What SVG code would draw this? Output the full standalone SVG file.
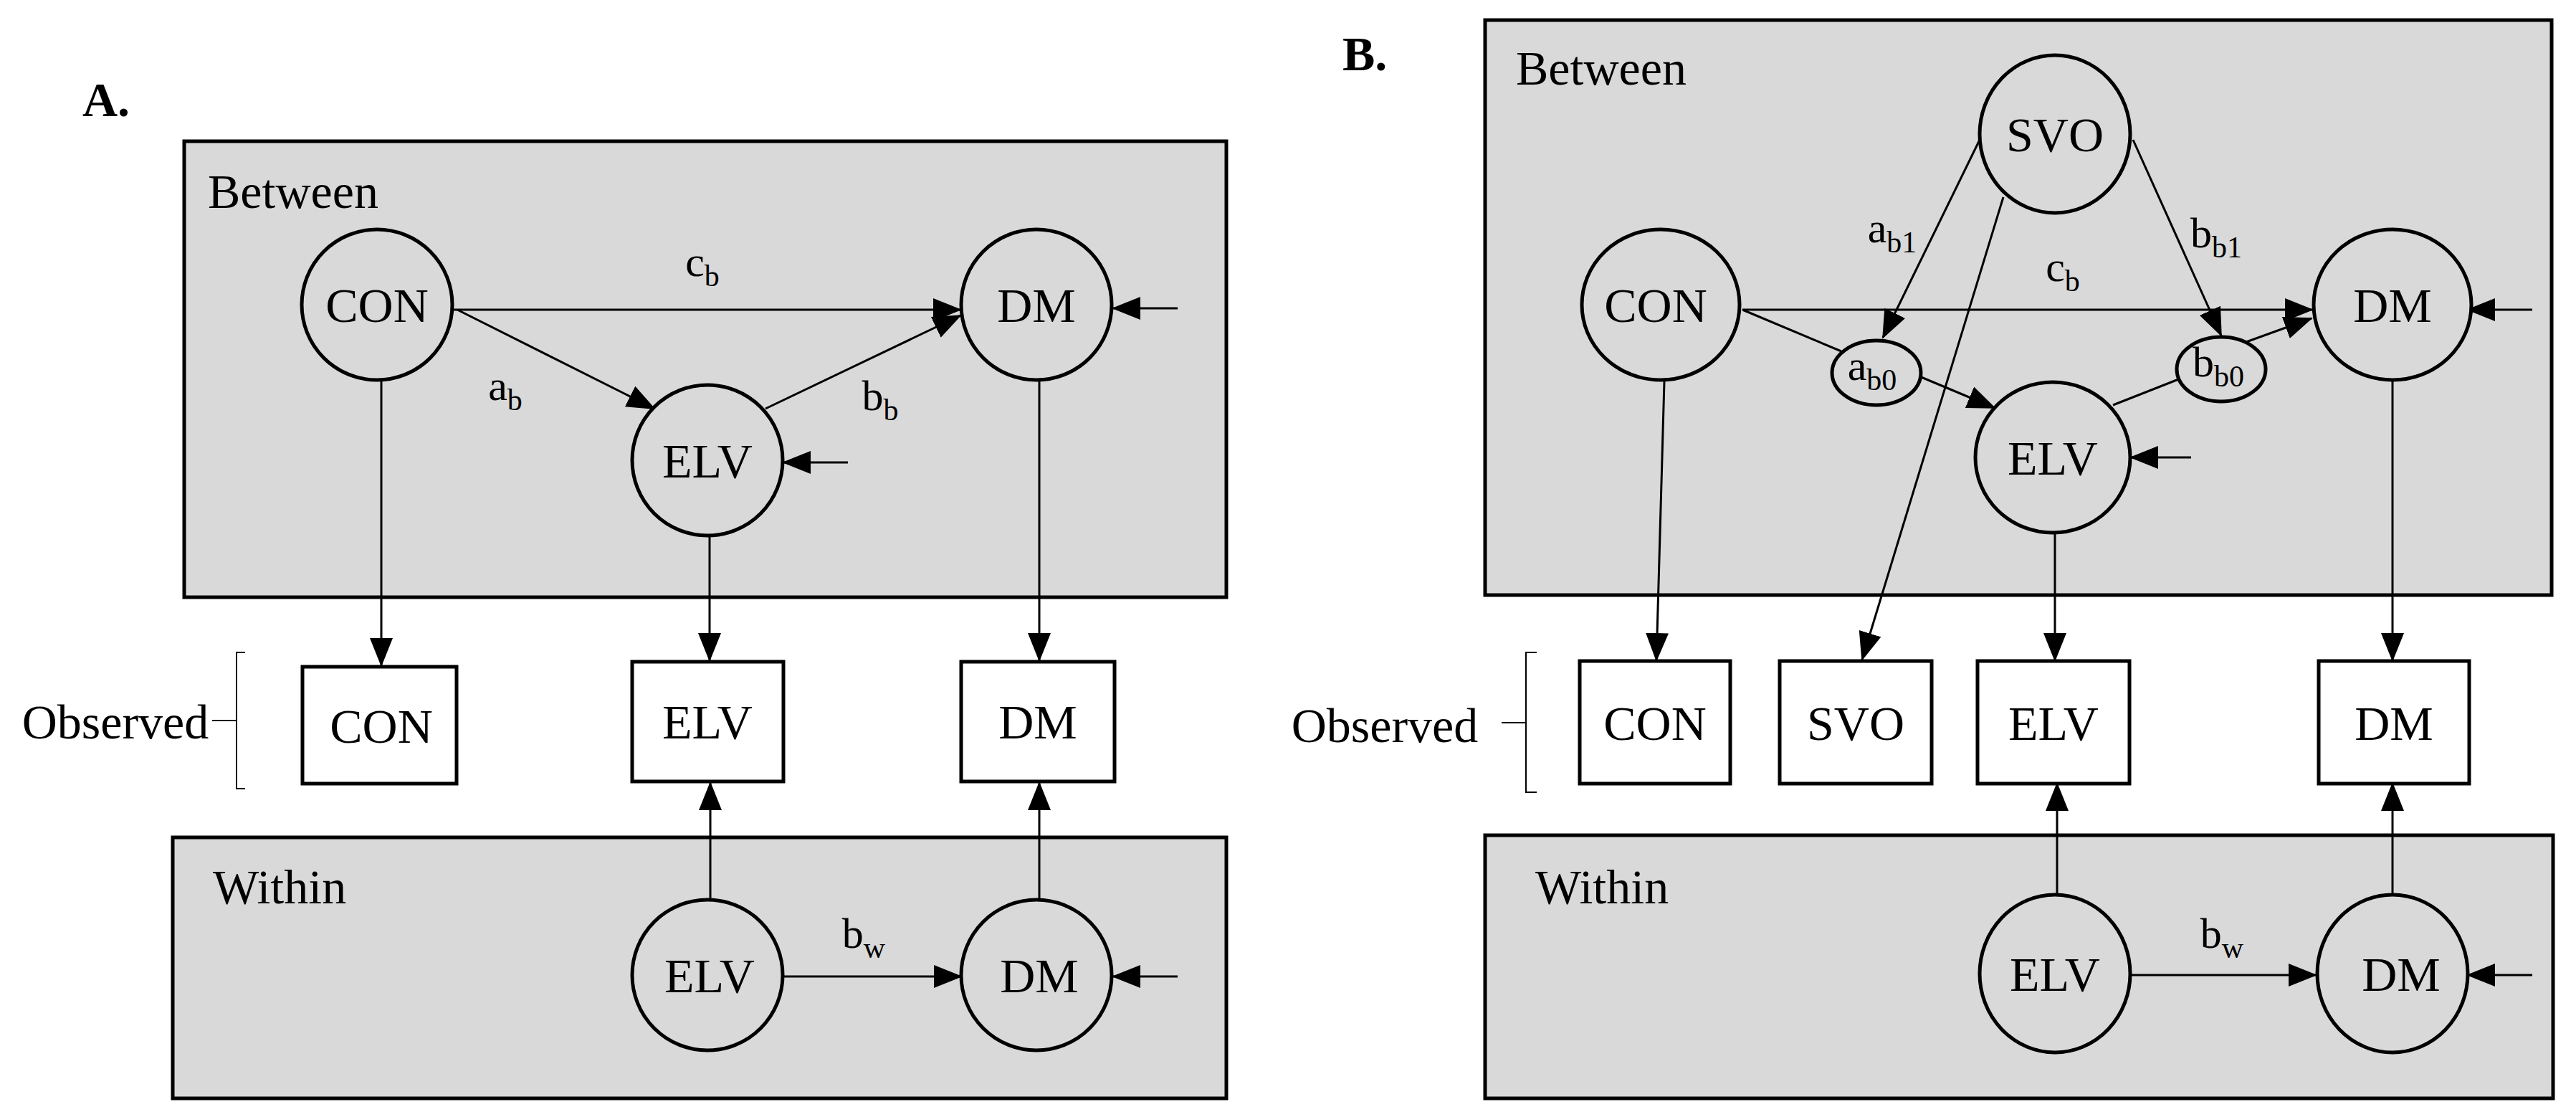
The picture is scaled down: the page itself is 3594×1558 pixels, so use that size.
<svg xmlns="http://www.w3.org/2000/svg" width="3594" height="1558" viewBox="0 0 3594 1558">
<style>
.panel{fill:#d9d9d9;stroke:#000;stroke-width:5}
.c{fill:#d9d9d9;stroke:#000;stroke-width:5}
.obs{fill:#fff;stroke:#000;stroke-width:5}
.t{font-family:"Liberation Serif",serif;font-size:68px;fill:#000}
.m{text-anchor:middle}
.lbl{font-family:"Liberation Serif",serif;font-size:60px;fill:#000}
.e{fill:none;stroke:#000;stroke-width:3}
.a{fill:none;stroke:#000;stroke-width:3;marker-end:url(#ah)}
.br{fill:none;stroke:#000;stroke-width:2}
</style>
<defs>
<marker id="ah" markerUnits="userSpaceOnUse" markerWidth="40" markerHeight="32" refX="38" refY="16" orient="auto"><path d="M0,0 L40,16 L0,32 Z" fill="#000"/></marker>
</defs>
<g id="panelA">
<text class="t" x="115" y="162" font-weight="bold">A.</text>
<rect id="A-between" class="panel" x="257" y="197" width="1454" height="636"/>
<text class="t" x="290" y="290">Between</text>
<rect id="A-within" class="panel" x="241" y="1168" width="1470" height="364"/>
<text class="t" x="297" y="1260">Within</text>
<text class="t m" x="161" y="1030">Observed</text>
<path class="br" d="M342,910 H330 V1100 H342 M296,1005 H330"/>
</g>
<g id="panelB">
<text class="t" x="1873" y="98" font-weight="bold">B.</text>
<rect id="B-between" class="panel" x="2072" y="28" width="1488" height="802"/>
<text class="t" x="2115" y="118">Between</text>
<rect id="B-within" class="panel" x="2072" y="1165" width="1490" height="367"/>
<text class="t" x="2142" y="1260">Within</text>
<text class="t m" x="1932" y="1035">Observed</text>
<path class="br" d="M2144,910 H2129 V1105 H2144 M2095,1008 H2129"/>
</g>
<g id="connectors">
<!-- A -->
<line class="a" x1="632" y1="432" x2="1340" y2="432"/>
<line class="a" x1="638" y1="432" x2="913" y2="570"/>
<line class="a" x1="1068" y1="570" x2="1340" y2="440"/>
<line class="a" x1="532" y1="532" x2="532" y2="928"/>
<line class="a" x1="990" y1="748" x2="990" y2="921"/>
<line class="a" x1="1450" y1="532" x2="1450" y2="921"/>
<line class="a" x1="991" y1="1253" x2="991" y2="1092"/>
<line class="a" x1="1450" y1="1253" x2="1450" y2="1092"/>
<line class="a" x1="1093" y1="1362" x2="1341" y2="1362"/>
<line class="a" x1="1643" y1="430" x2="1553" y2="430"/>
<line class="a" x1="1183" y1="645" x2="1093" y2="645"/>
<line class="a" x1="1643" y1="1362" x2="1553" y2="1362"/>
<!-- B -->
<line class="a" x1="2431" y1="432" x2="3226" y2="432"/>
<line class="e" x1="2431" y1="432" x2="2569" y2="490"/>
<line class="a" x1="2678" y1="525" x2="2783" y2="569"/>
<line class="e" x1="2948" y1="565" x2="3042" y2="528"/>
<line class="a" x1="3131" y1="478" x2="3225" y2="444"/>
<line class="a" x1="2762" y1="195" x2="2627" y2="471"/>
<line class="a" x1="2976" y1="195" x2="3099" y2="468"/>
<line class="a" x1="2795" y1="275" x2="2598" y2="920"/>
<line class="a" x1="2322" y1="532" x2="2311" y2="921"/>
<line class="a" x1="2867" y1="745" x2="2867" y2="921"/>
<line class="a" x1="3338" y1="532" x2="3338" y2="921"/>
<line class="a" x1="2870" y1="1250" x2="2870" y2="1093"/>
<line class="a" x1="3338" y1="1250" x2="3338" y2="1093"/>
<line class="a" x1="2972" y1="1360" x2="3231" y2="1360"/>
<line class="a" x1="3533" y1="432" x2="3443" y2="432"/>
<line class="a" x1="3057" y1="638" x2="2973" y2="638"/>
<line class="a" x1="3533" y1="1360" x2="3443" y2="1360"/>
</g>
<g id="A-labels">
<text class="lbl m" x="980" y="385">c<tspan font-size="42" dy="14">b</tspan></text>
<text class="lbl m" x="705" y="558">a<tspan font-size="42" dy="14">b</tspan></text>
<text class="lbl m" x="1228" y="572">b<tspan font-size="42" dy="14">b</tspan></text>
<text class="lbl m" x="1205" y="1322">b<tspan font-size="42" dy="14">w</tspan></text>
</g>
<g id="B-labels">
<text class="lbl m" x="2878" y="392">c<tspan font-size="42" dy="14">b</tspan></text>
<text class="lbl m" x="2640" y="338">a<tspan font-size="42" dy="14">b1</tspan></text>
<text class="lbl m" x="3092" y="345">b<tspan font-size="42" dy="14">b1</tspan></text>
<text class="lbl m" x="3100" y="1322">b<tspan font-size="42" dy="14">w</tspan></text>
</g>
<g id="A-CON"><ellipse class="c" cx="526" cy="425" rx="105" ry="105"/><text class="t m" x="526" y="449">CON</text></g>
<g id="A-DM"><ellipse class="c" cx="1446" cy="425" rx="105" ry="105"/><text class="t m" x="1446" y="449">DM</text></g>
<g id="A-ELV"><ellipse class="c" cx="987" cy="642" rx="105" ry="105"/><text class="t m" x="987" y="666">ELV</text></g>
<g id="A-obs-CON"><rect class="obs" x="422" y="930" width="215" height="163"/><text class="t m" x="532" y="1036">CON</text></g>
<g id="A-obs-ELV"><rect class="obs" x="882" y="923" width="211" height="167"/><text class="t m" x="987" y="1030">ELV</text></g>
<g id="A-obs-DM"><rect class="obs" x="1341" y="923" width="214" height="167"/><text class="t m" x="1448" y="1030">DM</text></g>
<g id="A-w-ELV"><ellipse class="c" cx="987" cy="1360" rx="105" ry="105"/><text class="t m" x="990" y="1384">ELV</text></g>
<g id="A-w-DM"><ellipse class="c" cx="1446" cy="1360" rx="105" ry="105"/><text class="t m" x="1450" y="1384">DM</text></g>
<g id="B-SVO"><ellipse class="c" cx="2867" cy="187" rx="105" ry="110"/><text class="t m" x="2867" y="211">SVO</text></g>
<g id="B-CON"><ellipse class="c" cx="2317" cy="425" rx="110" ry="105"/><text class="t m" x="2310" y="449">CON</text></g>
<g id="B-DM"><ellipse class="c" cx="3338" cy="425" rx="110" ry="105"/><text class="t m" x="3338" y="449">DM</text></g>
<g id="B-ELV"><ellipse class="c" cx="2864" cy="638" rx="108" ry="105"/><text class="t m" x="2864" y="662">ELV</text></g>
<g id="B-ab0"><ellipse class="c" cx="2618" cy="520" rx="62" ry="45"/><text class="lbl m" x="2612" y="530">a<tspan font-size="42" dy="14">b0</tspan></text></g>
<g id="B-bb0"><ellipse class="c" cx="3099" cy="515" rx="62" ry="45"/><text class="lbl m" x="3095" y="525">b<tspan font-size="42" dy="14">b0</tspan></text></g>
<g id="B-obs-CON"><rect class="obs" x="2204" y="922" width="210" height="171"/><text class="t m" x="2309" y="1032">CON</text></g>
<g id="B-obs-SVO"><rect class="obs" x="2483" y="922" width="212" height="171"/><text class="t m" x="2589" y="1032">SVO</text></g>
<g id="B-obs-ELV"><rect class="obs" x="2759" y="922" width="212" height="171"/><text class="t m" x="2865" y="1032">ELV</text></g>
<g id="B-obs-DM"><rect class="obs" x="3235" y="922" width="210" height="171"/><text class="t m" x="3340" y="1032">DM</text></g>
<g id="B-w-ELV"><ellipse class="c" cx="2867" cy="1358" rx="105" ry="110"/><text class="t m" x="2867" y="1382">ELV</text></g>
<g id="B-w-DM"><ellipse class="c" cx="3338" cy="1358" rx="105" ry="110"/><text class="t m" x="3350" y="1382">DM</text></g>
</svg>
